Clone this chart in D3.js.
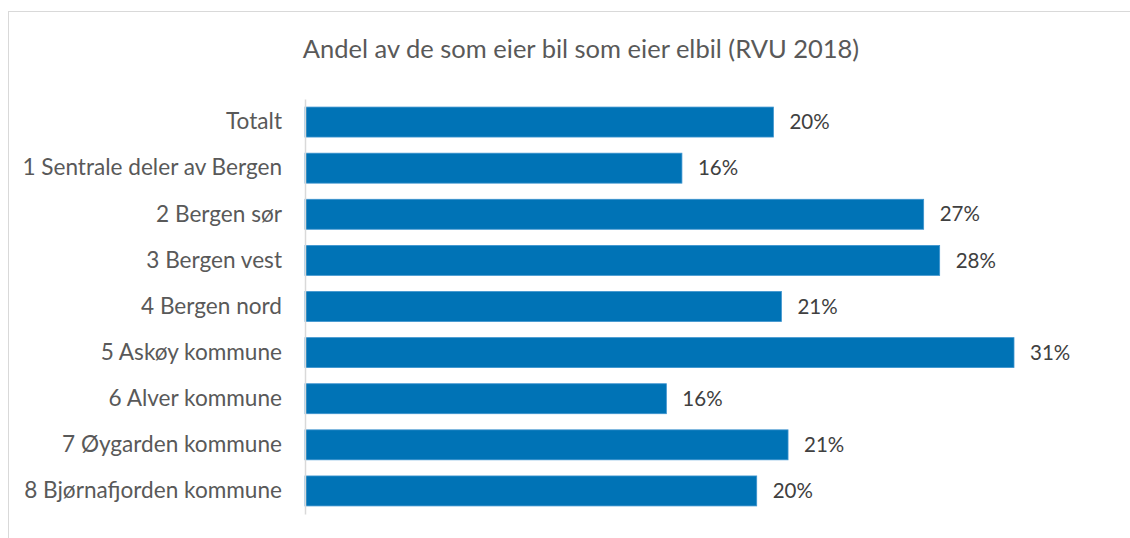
<!DOCTYPE html>
<html><head><meta charset="utf-8">
<script src="https://cdn.jsdelivr.net/npm/d3@7"></script>
<style>body{margin:0;background:#fff}svg{display:block}</style>
</head><body>
<script>
const categories = ["Totalt","1 Sentrale deler av Bergen","2 Bergen sør","3 Bergen vest","4 Bergen nord","5 Askøy kommune","6 Alver kommune","7 Øygarden kommune","8 Bjørnafjorden kommune"];
const values = [0.2048, 0.1648, 0.2705, 0.2775, 0.2083, 0.310, 0.158, 0.2112, 0.1975];
const title = "Andel av de som eier bil som eier elbil (RVU 2018)";

const W = 1130, H = 538;
const svg = d3.select("body").append("svg").attr("width", W).attr("height", H);
const font = "Lato, 'Open Sans', sans-serif";

svg.append("rect").attr("x", 8.5).attr("y", 11.5).attr("width", 1140).attr("height", 560)
  .attr("fill", "#fff").attr("stroke", "#d9d9d9").attr("stroke-width", 1);

svg.append("text").attr("x", 581).attr("y", 58).attr("text-anchor", "middle")
  .attr("font-family", font).attr("font-size", 25.5).attr("fill", "#595959").text(title);

const x = d3.scaleLinear().domain([0, 0.31]).range([305, 1014]);
const y = d3.scaleBand().domain(categories).range([99, 514]).paddingInner(0.35).paddingOuter(0.175);

svg.selectAll("rect.bar").data(values).join("rect").attr("class", "bar")
  .attr("x", x(0)).attr("y", (d, i) => y(categories[i]))
  .attr("width", d => x(d) - x(0)).attr("height", y.bandwidth())
  .attr("fill", "#0073b6").attr("stroke", "#3d94cf").attr("stroke-width", 0.8);

const yAxis = svg.append("g").attr("transform", `translate(${x(0)},0)`)
  .call(d3.axisLeft(y).tickSize(0).tickPadding(23));
yAxis.select(".domain").attr("stroke", "#d9d9d9").attr("stroke-width", 1.5);
yAxis.selectAll("text").attr("font-family", font).attr("font-size", 22.6).attr("fill", "#595959");

svg.selectAll("text.val").data(values).join("text").attr("class", "val")
  .attr("x", d => x(d) + 16).attr("y", (d, i) => y(categories[i]) + y.bandwidth() / 2)
  .attr("dy", "0.35em").attr("font-family", font).attr("font-size", 20.5).attr("fill", "#404040")
  .text(d3.format(".0%"));
</script>
</body></html>
